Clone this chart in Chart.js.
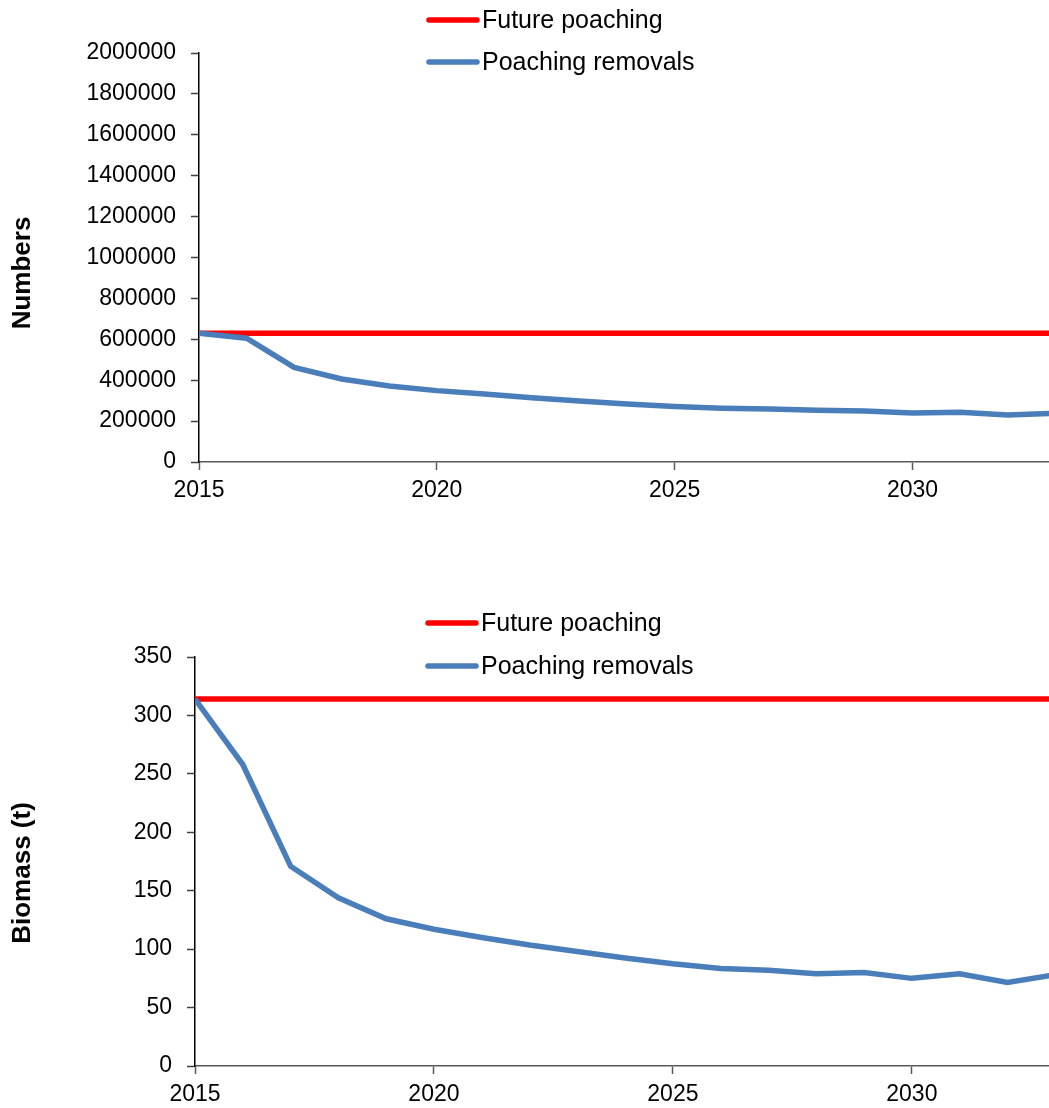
<!DOCTYPE html>
<html>
<head>
<meta charset="utf-8">
<script src="https://cdn.jsdelivr.net/npm/chart.js@4/dist/chart.umd.min.js"></script>
<style>
  html, body { margin: 0; padding: 0; background: #fff; }
  body { width: 1049px; height: 1108px; position: relative; overflow: hidden; }
  .panel { position: absolute; left: 0; width: 1049px; }
  #numbersPanel { top: 0; height: 520px; }
  #biomassPanel { top: 560px; height: 548px; }
</style>
</head>
<body>
<div class="panel" id="numbersPanel"><canvas id="numbersChart"></canvas></div>
<div class="panel" id="biomassPanel"><canvas id="biomassChart"></canvas></div>
<script>
// Projection years
const years = [2015, 2016, 2017, 2018, 2019, 2020, 2021, 2022, 2023, 2024,
               2025, 2026, 2027, 2028, 2029, 2030, 2031, 2032, 2033];
const yearTicks = [2015, 2020, 2025, 2030];

// Poaching in numbers of animals
const numbersFuturePoaching = [630000, 630000, 630000, 630000, 630000, 630000, 630000,
                               630000, 630000, 630000, 630000, 630000, 630000, 630000,
                               630000, 630000, 630000, 630000, 630000];
const numbersRemovals = [630000, 605000, 463000, 406000, 372000, 349000, 333000,
                         314000, 298000, 284000, 271000, 263000, 259000, 253000,
                         249000, 240000, 243000, 230000, 238000];
const numbersTicks = [0, 200000, 400000, 600000, 800000, 1000000, 1200000,
                      1400000, 1600000, 1800000, 2000000];

// Poaching in biomass (tonnes)
const biomassFuturePoaching = [314, 314, 314, 314, 314, 314, 314, 314, 314, 314,
                               314, 314, 314, 314, 314, 314, 314, 314, 314];
const biomassRemovals = [314, 258, 171, 144, 126, 117, 110, 103.5, 98, 92.5,
                         87.5, 83.5, 82, 79, 80, 75, 79, 71.5, 78];
const biomassTicks = [0, 50, 100, 150, 200, 250, 300, 350];

const seriesLabels = ['Future poaching', 'Poaching removals'];
const RED = '#FF0000';
const BLUE = '#4A7EBB';
const FONT = '"Liberation Sans", Arial, sans-serif';
const LINE_W = 5.5;

const toPoints = vals => years.map((yr, i) => ({ x: yr, y: vals[i] }));

// Legend inside the top margin plus the rotated y-axis title
const panelDecor = {
  id: 'panelDecor',
  afterDraw(chart, args, opts) {
    const ctx = chart.ctx;
    ctx.save();
    ctx.font = '25px ' + FONT;
    ctx.textBaseline = 'middle';
    ctx.lineCap = 'round';
    chart.data.datasets.forEach((ds, i) => {
      const y = opts.legendY + i * opts.legendGap;
      ctx.strokeStyle = ds.borderColor;
      ctx.lineWidth = LINE_W;
      ctx.beginPath();
      ctx.moveTo(opts.legendX, y);
      ctx.lineTo(opts.legendX + 48, y);
      ctx.stroke();
      ctx.fillStyle = '#000';
      ctx.fillText(ds.label, opts.legendX + 53, y + 1);
    });
    ctx.translate(opts.titleX, opts.titleY);
    ctx.rotate(-Math.PI / 2);
    ctx.font = 'bold 26px ' + FONT;
    ctx.textAlign = 'center';
    ctx.textBaseline = 'middle';
    ctx.fillStyle = '#000';
    ctx.fillText(opts.title, 0, 0);
    ctx.restore();
  }
};

function makeChart(id, future, removals, yTicks, yMax, axisWidth, padTop, xHeight, decor) {
  return new Chart(document.getElementById(id), {
    type: 'line',
    data: {
      datasets: [
        { label: seriesLabels[0], data: toPoints(future), borderColor: RED,
          backgroundColor: RED, borderWidth: LINE_W, pointRadius: 0, order: 1 },
        { label: seriesLabels[1], data: toPoints(removals), borderColor: BLUE,
          backgroundColor: BLUE, borderWidth: LINE_W, pointRadius: 0, order: 0 }
      ]
    },
    options: {
      responsive: true,
      maintainAspectRatio: false,
      animation: false,
      events: [],
      layout: { padding: { top: padTop, right: 0, bottom: 0, left: 0 } },
      plugins: {
        legend: { display: false },
        tooltip: { enabled: false },
        panelDecor: decor
      },
      scales: {
        x: {
          type: 'linear',
          min: 2015,
          max: 2032.87,
          afterBuildTicks: s => { s.ticks = yearTicks.map(v => ({ value: v })); },
          afterFit: s => { s.height = xHeight; },
          ticks: { color: '#000', font: { family: FONT, size: 23 }, padding: 7,
                   maxRotation: 0, autoSkip: false, callback: v => String(v) },
          grid: { drawOnChartArea: false, drawTicks: true, tickLength: 8,
                  tickColor: '#595959', tickWidth: 1.5 },
          border: { color: '#595959', width: 1.5 }
        },
        y: {
          min: 0,
          max: yMax,
          afterBuildTicks: s => { s.ticks = yTicks.map(v => ({ value: v })); },
          afterFit: s => { s.width = axisWidth; },
          ticks: { color: '#000', font: { family: FONT, size: 23 }, padding: 15,
                   autoSkip: false, callback: v => String(v) },
          grid: { drawOnChartArea: false, drawTicks: true, tickLength: 8,
                  tickColor: '#404040', tickWidth: 1.5 },
          border: { color: '#000', width: 1.5 }
        }
      }
    },
    plugins: [panelDecor]
  });
}

makeChart('numbersChart', numbersFuturePoaching, numbersRemovals, numbersTicks, 2000000,
          199, 53, 58,
          { legendX: 429, legendY: 20, legendGap: 42, title: 'Numbers', titleX: 22.5, titleY: 273 });
makeChart('biomassChart', biomassFuturePoaching, biomassRemovals, biomassTicks, 350,
          195, 97, 42,
          { legendX: 428, legendY: 63, legendGap: 43, title: 'Biomass (t)', titleX: 22.5, titleY: 313 });
</script>
</body>
</html>
